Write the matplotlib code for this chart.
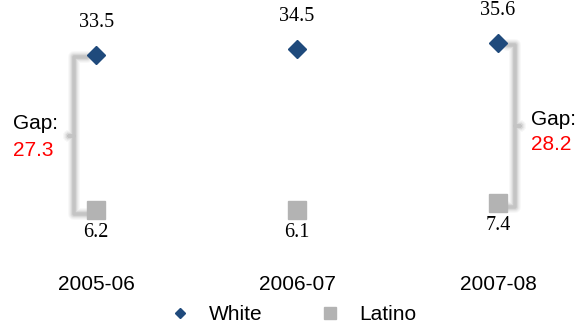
import matplotlib
matplotlib.use("Agg")
import matplotlib.pyplot as plt
from matplotlib.lines import Line2D

# Data
years = ["2005-06", "2006-07", "2007-08"]
white = [33.5, 34.5, 35.6]
latino = [6.2, 6.1, 7.4]
gap_years = [0, 2]          # indices of the years that get a gap bracket

WHITE_COLOR = "#1f4a7c"
LATINO_COLOR = "#b3b3b3"
BRACKET_COLOR = "#c4c4c4"
SANS = "Liberation Sans"
SERIF = "Liberation Serif"

DPI = 100
PX = 72.0 / DPI  # points per pixel

fig = plt.figure(figsize=(5.78, 3.24), dpi=DPI)
ax = fig.add_axes([0.0, 79 / 324, 1.0, 245 / 324])
x = list(range(len(years)))
ax.set_xlim(-0.478, 2.398)
ax.set_ylim(0, 43.1)
for s in ax.spines.values():
    s.set_visible(False)
ax.set_yticks([])
ax.set_xticks(x)
ax.set_xticklabels(years, fontsize=15, fontfamily=SANS)
ax.tick_params(axis="x", length=0, pad=30 * PX)

# Gap brackets (soft grey braces)
def bracket(xi, w, l, side):
    s = -1 if side == "left" else 1
    xv = xi + s * (0.11 if side == "left" else 0.085)
    xe = xi + s * 0.045
    xn = xv + s * 0.025
    top, bot = w - 0.4, l - 0.8
    mid = (top + bot) / 2
    xs = [xe, xv, xv, xn, xv, xv, xe]
    ys = [top, top, mid, mid, mid, bot, bot]
    for lw, a in [(12, 0.07), (10, 0.09), (8, 0.12), (6, 0.2)]:
        ax.plot(xs, ys, color="#a0a0a0", lw=lw * PX, alpha=a,
                solid_joinstyle="round", solid_capstyle="round", zorder=1)
    ax.plot(xs, ys, color=BRACKET_COLOR, lw=3.5 * PX,
            solid_joinstyle="round", solid_capstyle="round", zorder=1)
    return xn, mid

for i in gap_years:
    side = "left" if i == 0 else "right"
    xn, mid = bracket(x[i], white[i], latino[i], side)
    gap = white[i] - latino[i]
    if side == "left":
        dx, up, down = -56, 12, -14.5
    else:
        dx, up, down = 11, 7, -18
    ax.annotate("Gap:", (xn, mid), xytext=(dx * PX, up * PX),
                textcoords="offset points", ha="left", va="center",
                fontsize=15, fontfamily=SANS, color="black")
    ax.annotate(f"{gap:.1f}", (xn, mid), xytext=(dx * PX, down * PX),
                textcoords="offset points", ha="left", va="center",
                fontsize=15, fontfamily=SANS, color="red")

# Markers
ax.plot(x, white, linestyle="none", marker="D", markersize=9.2,
        color=WHITE_COLOR, label="White", zorder=3)
ax.plot(x, latino, linestyle="none", marker="s", markersize=13,
        color=LATINO_COLOR, label="Latino", zorder=3)

# Value labels
for xi, v in zip(x, white):
    ax.annotate(f"{v:.1f}", (xi, v), xytext=(0, 32 * PX),
                textcoords="offset points", ha="center", va="center",
                fontsize=14.5, fontfamily=SERIF)
for xi, v in zip(x, latino):
    ax.annotate(f"{v:.1f}", (xi, v), xytext=(0, -22.5 * PX),
                textcoords="offset points", ha="center", va="center",
                fontsize=14.5, fontfamily=SERIF)

handles = [
    Line2D([], [], linestyle="none", marker="D", markersize=5.6,
           color=WHITE_COLOR, label="White"),
    Line2D([], [], linestyle="none", marker="s", markersize=8,
           color=LATINO_COLOR, label="Latino"),
]
fig.legend(handles=handles, loc="center", ncol=2,
           bbox_to_anchor=(293 / 578, 1 - 315 / 324),
           frameon=False, prop={"family": SANS, "size": 15},
           handlelength=1.0, handletextpad=0.9, columnspacing=2.72,
           borderpad=0, borderaxespad=0)

fig.savefig("out.png", dpi=DPI)
